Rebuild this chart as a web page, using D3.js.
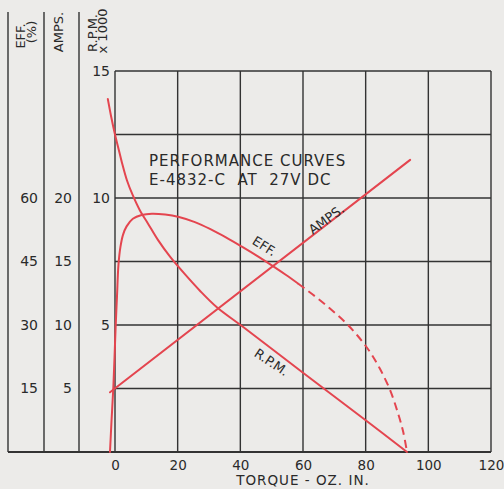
<!DOCTYPE html>
<html>
<head>
<meta charset="utf-8">
<script src="https://cdn.jsdelivr.net/npm/d3@7"></script>
<style>
  html, body { margin: 0; padding: 0; background: #ecebe9; }
  svg { display: block; }
  text { font-family: "DejaVu Sans", sans-serif; fill: #2a2a2a; }
</style>
</head>
<body>
<svg id="chart" width="504" height="489"></svg>
<script>
// Motor performance: torque (oz. in.) against speed, current and efficiency
const torqueTicks = [0, 20, 40, 60, 80, 100, 120];
const rpmTicks = [5, 10, 15];           // x1000
const rpmGrid = [2.5, 5, 7.5, 10, 12.5, 15];
const effTicks = [15, 30, 45, 60];      // percent
const ampTicks = [5, 10, 15, 20];

// Speed curve (torque, rpm x1000)
const rpmTorque = [-2.3, -1.3, 0, 1, 2.2, 3.8, 5.7, 8, 10.5, 13.7, 17.5, 22.3, 27.1, 32.5, 40.5, 60, 80, 93.2];
const rpmValues = [13.9, 13.25, 12.5, 12.0, 11.4, 10.7, 10.1, 9.5, 9.0, 8.35, 7.7, 7.0, 6.35, 5.7, 4.96, 3.12, 1.25, 0];

// Current curve (torque, amps)
const ampTorque = [-1.6, 94.2];
const ampValues = [4.7, 23.0];

// Efficiency curve, measured part (torque, %)
const effTorque = [-1.6, -1.1, -0.55, -0.15, 0.2, 0.65, 1.1, 1.75, 2.55, 3.7, 5.7, 8.5, 11.8, 16, 20.4, 25.5, 30.3, 35.4, 40.5, 45.6, 50.4, 54.6, 58.4];
const effValues = [0, 7.5, 15, 22.4, 29.5, 37, 44.2, 48.5, 51.3, 53.3, 55.1, 56, 56.3, 56.1, 55.5, 54.3, 52.7, 50.7, 48.5, 46.2, 43.9, 41.8, 39.8];
// Efficiency curve, extrapolated part (dashed)
const effDashTorque = [58.4, 63.8, 68.6, 73.4, 77.5, 81.4, 84.6, 87.8, 90.3, 91.9, 93.2];
const effDashValues = [39.8, 36.8, 33.9, 30.7, 27.4, 23.6, 19.6, 14.6, 9.2, 5.0, 0];

const svg = d3.select("#chart");
const red = "#e4454f";
const ink = "#333";

const x = d3.scaleLinear().domain([0, 120]).range([115, 491]);
const yRpm = d3.scaleLinear().domain([0, 15]).range([452, 71]);
const yEff = d3.scaleLinear().domain([0, 90]).range([452, 71]);
const yAmp = d3.scaleLinear().domain([0, 30]).range([452, 71]);

// Grid
const grid = svg.append("g").attr("stroke", ink).attr("stroke-width", 1.4);
grid.selectAll("line.v").data(torqueTicks).join("line")
  .attr("x1", d => x(d)).attr("x2", d => x(d))
  .attr("y1", yRpm(15)).attr("y2", yRpm(0));
grid.selectAll("line.h").data(rpmGrid).join("line")
  .attr("x1", x(0)).attr("x2", x(120))
  .attr("y1", d => yRpm(d)).attr("y2", d => yRpm(d));

// Extra scale columns on the left
const colX = [8, 44, 79];
grid.selectAll("line.c").data(colX).join("line")
  .attr("x1", d => d).attr("x2", d => d)
  .attr("y1", 12).attr("y2", yRpm(0));
// Base line
grid.append("line").attr("x1", 8).attr("x2", x(120))
  .attr("y1", yRpm(0)).attr("y2", yRpm(0)).attr("stroke-width", 1.8);

// Bottom axis labels
const xAxis = svg.append("g").attr("transform", `translate(0,${yRpm(0)})`)
  .call(d3.axisBottom(x).tickValues(torqueTicks).tickSize(0).tickPadding(8));
xAxis.select(".domain").remove();
xAxis.selectAll("text").style("font-family", "DejaVu Sans").style("font-size", "13.5px").attr("fill", "#2a2a2a");

svg.append("text").attr("x", x(60)).attr("y", 485).attr("text-anchor", "middle")
  .style("font-size", "13.5px").style("letter-spacing", "1px").text("TORQUE - OZ. IN.");

// Left labels
function leftAxis(scale, ticks, xr) {
  const g = svg.append("g").attr("transform", `translate(${xr},0)`)
    .call(d3.axisLeft(scale).tickValues(ticks).tickSize(0).tickPadding(0).tickFormat(d3.format("d")));
  g.select(".domain").remove();
  g.selectAll("text").style("font-family", "DejaVu Sans").style("font-size", "14px").attr("fill", "#2a2a2a");
}
leftAxis(yEff, effTicks, 38);
leftAxis(yAmp, ampTicks, 72);
leftAxis(yRpm, rpmTicks, 110);

// Rotated column headers
const heads = [
  { t: "EFF.", x: 25, y: 36 },
  { t: "(%)", x: 36, y: 32 },
  { t: "AMPS.", x: 63, y: 32 },
  { t: "R.P.M.", x: 97, y: 33 },
  { t: "x 1000", x: 107, y: 31 }
];
svg.selectAll("text.head").data(heads).join("text")
  .attr("transform", d => `translate(${d.x},${d.y}) rotate(-90)`)
  .attr("text-anchor", "middle").style("font-size", "13px").text(d => d.t);

// Title block
svg.append("text").attr("x", 149).attr("y", 166).style("font-size", "15px")
  .style("letter-spacing", "1px").text("PERFORMANCE CURVES");
svg.append("text").attr("x", 149).attr("y", 184.5).style("font-size", "15px")
  .style("letter-spacing", "1px").style("white-space", "pre").text("E-4832-C  AT  27V DC");

// Curves
const curves = svg.append("g").attr("fill", "none").attr("stroke", red)
  .attr("stroke-width", 2).attr("stroke-linecap", "round");

const rpmLine = d3.line().x(d => x(d[0])).y(d => yRpm(d[1])).curve(d3.curveCatmullRom.alpha(0.5));
curves.append("path").attr("d", rpmLine(d3.zip(rpmTorque, rpmValues)));

const ampLine = d3.line().x(d => x(d[0])).y(d => yAmp(d[1]));
curves.append("path").attr("d", ampLine(d3.zip(ampTorque, ampValues)));

const effLine = d3.line().x(d => x(d[0])).y(d => yEff(d[1])).curve(d3.curveCatmullRom.alpha(0.5));
curves.append("path").attr("d", effLine(d3.zip(effTorque, effValues)));
curves.append("path").attr("d", effLine(d3.zip(effDashTorque, effDashValues)))
  .attr("stroke-dasharray", "8,5").attr("stroke-linecap", "butt");

// Curve names
const names = [
  { t: "EFF.", x: 262, y: 250, a: 32 },
  { t: "AMPS.", x: 329, y: 223, a: -36 },
  { t: "R.P.M.", x: 269, y: 366, a: 34 }
];
svg.selectAll("text.name").data(names).join("text")
  .attr("transform", d => `translate(${d.x},${d.y}) rotate(${d.a})`)
  .attr("text-anchor", "middle").style("font-size", "13px").text(d => d.t);
</script>
</body>
</html>
